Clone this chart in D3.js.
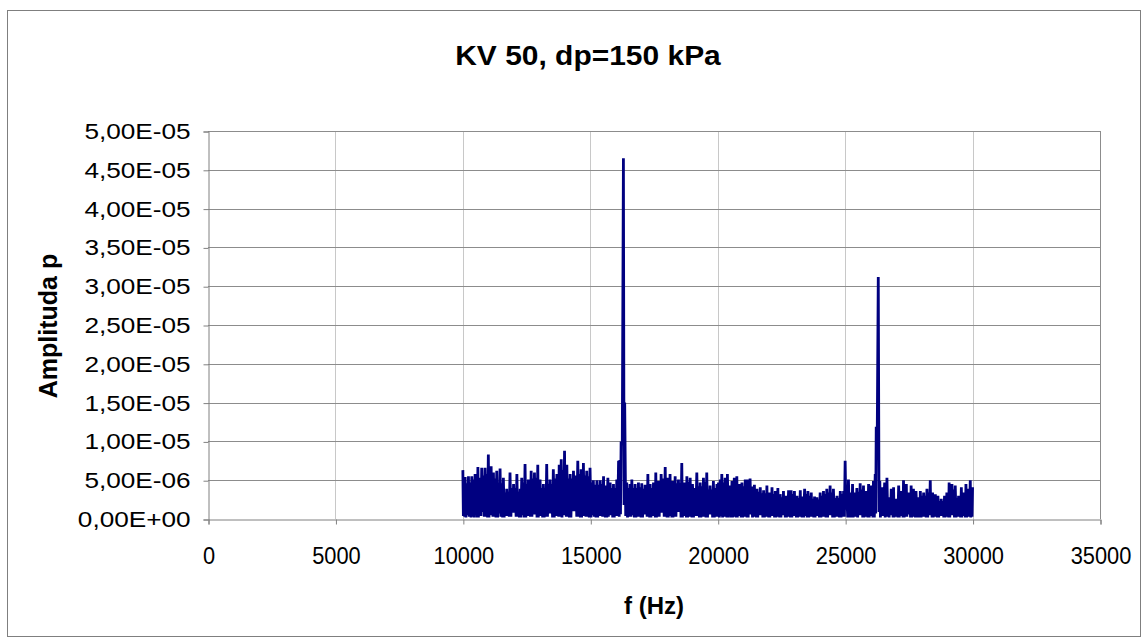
<!DOCTYPE html>
<html><head><meta charset="utf-8">
<script src="https://cdn.jsdelivr.net/npm/d3@7"></script>
<style>
html,body{margin:0;padding:0;background:#fff;}
text{font-family:"Liberation Sans",Arial,sans-serif;}
</style></head>
<body><svg id="c" width="1144" height="638"></svg>
<script>
const title = "KV 50, dp=150 kPa";
const xTitle = "f (Hz)";
const yTitle = "Amplituda p";
const xTicks = [0,5000,10000,15000,20000,25000,30000,35000];
const yTicks = [0,5e-6,1e-5,1.5e-5,2e-5,2.5e-5,3e-5,3.5e-5,4e-5,4.5e-5,5e-5];
const ampUnit = 1e-6;
// spectrum samples: [frequency Hz, amplitude in 1e-6]
const spectrum = [
[10000,6.3],[10020,0.4],[10045,4.8],[10070,0.3],[10090,5.4],[10120,0.2],[10155,4.6],[10190,0.5],[10220,5.5],[10250,0.3],
[10285,4.7],[10320,0.2],[10350,5.5],[10380,0.3],[10410,5.1],[10445,0.2],[10480,5.8],[10505,0.5],[10535,5.0],[10560,0.2],
[10590,6.7],[10610,0.2],[10635,4.6],[10660,0.4],[10680,5.3],[10710,0.4],[10740,6.6],[10770,0.9],[10805,5.6],[10840,0.3],
[10870,6.6],[10900,0.3],[10935,5.8],[10970,0.2],[11000,8.3],[11025,0.2],[11055,6.0],[11080,0.5],[11110,6.8],[11130,0.5],
[11155,5.4],[11180,0.3],[11200,6.0],[11230,0.3],[11265,5.2],[11300,0.2],[11330,6.2],[11365,0.2],[11400,4.5],[11430,0.7],
[11460,6.5],[11490,0.3],[11525,4.6],[11560,0.2],[11590,5.3],[11620,0.2],[11655,3.4],[11690,0.4],[11720,3.9],[11750,0.4],
[11785,3.5],[11820,0.3],[11850,6.0],[11885,0.3],[11920,4.0],[11955,0.8],[11990,4.5],[12020,0.8],[12055,4.0],[12090,0.3],
[12120,5.8],[12150,0.3],[12185,3.5],[12220,0.2],[12250,3.9],[12280,0.2],[12310,5.3],[12340,0.5],[12375,4.7],[12410,0.2],
[12440,7.1],[12470,0.2],[12505,4.5],[12540,0.4],[12570,5.1],[12595,0.4],[12625,4.5],[12650,0.3],[12680,6.2],[12710,0.3],
[12745,5.2],[12780,0.6],[12810,6.0],[12840,0.6],[12875,5.3],[12910,0.2],[12940,7.0],[12960,0.2],[12985,4.5],[13010,0.4],
[13030,5.1],[13060,0.4],[13095,4.0],[13130,0.2],[13160,4.5],[13190,0.2],[13225,4.0],[13260,0.3],[13290,7.1],[13320,0.3],
[13355,4.5],[13390,0.7],[13420,5.1],[13450,0.7],[13485,4.5],[13520,0.2],[13550,6.4],[13585,0.2],[13620,5.2],[13655,0.4],
[13690,5.8],[13710,0.4],[13735,5.2],[13760,0.3],[13780,7.0],[13820,0.3],[13860,7.7],[13890,0.2],[13925,6.3],[13960,0.5],
[13990,8.8],[14010,0.5],[14035,6.4],[14060,0.3],[14080,7.0],[14110,0.3],[14145,5.2],[14180,0.2],[14210,5.8],[14240,0.2],
[14275,5.2],[14310,1.0],[14340,6.2],[14380,1.0],[14425,5.6],[14470,0.3],[14510,7.5],[14540,0.3],[14575,5.8],[14610,0.2],
[14640,6.4],[14660,0.2],[14685,5.8],[14710,0.4],[14730,7.2],[14760,0.4],[14795,5.6],[14830,0.3],[14860,6.2],[14890,0.3],
[14925,5.5],[14960,0.2],[14990,6.6],[15025,0.2],[15060,4.7],[15090,0.5],[15120,5.0],[15155,0.3],[15190,4.4],[15225,0.2],
[15260,5.0],[15290,0.2],[15325,4.4],[15360,0.4],[15390,5.0],[15420,0.4],[15450,4.5],[15485,0.3],[15520,5.5],[15540,0.6],
[15565,3.8],[15590,0.2],[15610,4.3],[15650,0.2],[15690,5.3],[15710,0.3],[15735,4.2],[15760,0.5],[15780,4.7],[15810,0.5],
[15845,4.0],[15880,0.2],[15910,4.5],[15940,0.2],[15975,4.0],[16010,0.4],[16040,5.1],[16075,0.4],[16110,7.5],[16135,0.3],
[16160,7.6],[16185,0.6],[16210,10.0],[16255,9.5],[16300,46.5],[16325,1.8],[16350,15.0],[16390,0.4],[16430,4.7],[16460,0.2],
[16495,4.0],[16530,0.3],[16560,4.5],[16595,0.3],[16630,5.1],[16660,0.5],[16695,4.0],[16730,0.2],[16760,4.5],[16790,0.2],
[16825,4.0],[16860,0.3],[16890,4.7],[16920,0.3],[16955,4.1],[16990,0.2],[17020,4.6],[17050,0.2],[17085,3.9],[17120,0.6],
[17150,4.4],[17175,0.6],[17205,3.9],[17230,0.3],[17260,5.8],[17280,0.3],[17305,4.0],[17330,0.2],[17350,4.5],[17380,0.2],
[17415,4.0],[17450,0.4],[17480,4.7],[17500,0.4],[17525,4.2],[17550,0.2],[17570,6.0],[17595,0.2],[17625,4.4],[17650,0.3],
[17680,4.9],[17705,0.3],[17730,4.4],[17755,0.8],[17780,5.8],[17820,0.8],[17860,5.2],[17900,0.3],[17940,6.7],[17965,0.3],
[17990,4.8],[18015,0.2],[18040,5.3],[18060,0.2],[18085,4.8],[18110,0.4],[18130,5.8],[18150,0.4],[18175,4.4],[18200,0.2],
[18220,4.9],[18245,0.2],[18275,4.4],[18300,0.3],[18330,5.5],[18360,0.3],[18395,4.6],[18430,0.9],[18460,5.1],[18490,0.9],
[18525,4.6],[18560,0.2],[18590,7.2],[18615,0.2],[18645,4.2],[18670,0.4],[18700,4.7],[18720,0.4],[18745,4.2],[18770,0.2],
[18790,5.5],[18820,0.2],[18855,4.8],[18890,0.3],[18920,5.3],[18940,0.3],[18965,4.0],[18990,0.2],[19010,4.5],[19050,0.2],
[19095,4.0],[19140,0.4],[19180,6.0],[19210,0.4],[19245,4.2],[19280,0.2],[19310,4.7],[19340,0.2],[19375,4.2],[19410,0.3],
[19440,5.3],[19470,0.3],[19505,4.8],[19540,0.2],[19570,6.0],[19600,0.2],[19635,3.8],[19670,0.6],[19700,4.3],[19730,0.6],
[19765,3.8],[19800,0.2],[19830,4.9],[19865,0.2],[19900,4.0],[19935,0.3],[19970,4.5],[20000,0.3],[20030,4.7],[20065,0.2],
[20100,5.1],[20130,0.4],[20160,5.8],[20190,0.2],[20225,4.7],[20260,0.3],[20290,5.3],[20310,0.3],[20335,4.7],[20360,0.2],
[20380,5.8],[20415,0.2],[20450,4.3],[20475,0.5],[20505,3.8],[20530,0.2],[20560,4.9],[20580,0.2],[20605,4.4],[20630,0.3],
[20650,5.3],[20675,0.3],[20700,4.8],[20725,0.2],[20750,5.5],[20770,0.2],[20795,4.0],[20820,0.4],[20840,4.5],[20865,0.4],
[20895,4.0],[20920,0.2],[20950,4.7],[20980,0.2],[21015,4.2],[21050,0.3],[21080,5.1],[21100,0.3],[21125,4.6],[21150,0.2],
[21170,5.1],[21195,0.2],[21220,4.6],[21245,0.6],[21270,5.2],[21305,0.6],[21340,4.2],[21365,0.2],[21390,3.7],[21415,0.3],
[21440,4.4],[21465,0.3],[21490,3.5],[21515,0.2],[21540,3.9],[21570,0.2],[21605,3.5],[21640,0.5],[21670,4.1],[21700,0.5],
[21735,3.3],[21770,0.2],[21800,3.7],[21830,0.2],[21865,3.3],[21900,0.3],[21930,4.3],[21950,0.3],[21975,3.0],[22000,0.2],
[22020,3.4],[22045,0.2],[22075,3.0],[22100,0.4],[22130,4.1],[22160,0.4],[22195,3.2],[22230,0.2],[22260,3.6],[22285,0.2],
[22310,3.2],[22335,0.3],[22360,4.0],[22380,0.3],[22405,2.8],[22430,0.2],[22450,3.2],[22480,0.2],[22515,2.8],[22550,0.5],
[22580,3.6],[22600,0.5],[22625,2.7],[22650,0.2],[22670,3.0],[22695,0.2],[22725,2.7],[22750,0.3],[22780,3.7],[22805,0.3],
[22830,3.2],[22855,0.2],[22880,3.7],[22910,0.2],[22945,3.2],[22980,0.4],[23010,3.6],[23035,0.4],[23060,2.7],[23085,0.2],
[23110,3.0],[23140,0.2],[23175,2.7],[23210,0.3],[23240,3.7],[23260,0.3],[23285,2.6],[23310,0.2],[23330,2.9],[23370,0.2],
[23410,3.9],[23440,0.4],[23475,3.2],[23510,0.2],[23540,3.6],[23570,0.2],[23605,3.0],[23640,0.3],[23670,3.4],[23700,0.3],
[23735,2.6],[23770,0.2],[23800,2.9],[23820,0.2],[23845,2.5],[23870,0.4],[23890,2.8],[23920,0.4],[23955,2.5],[23990,0.2],
[24020,3.4],[24050,0.2],[24085,3.0],[24120,0.3],[24150,3.6],[24180,0.3],[24215,3.2],[24250,0.2],[24280,3.9],[24310,0.2],
[24345,3.4],[24380,0.5],[24410,4.3],[24440,0.5],[24475,3.4],[24510,0.2],[24540,3.9],[24575,0.2],[24610,2.7],[24645,0.3],
[24680,3.0],[24710,0.3],[24745,2.7],[24780,0.2],[24810,3.6],[24840,0.2],[24875,3.2],[24910,0.3],[24940,3.6],[24970,0.3],
[25000,7.5],[25030,1.2],[25065,3.2],[25100,0.2],[25130,5.1],[25165,0.2],[25200,3.4],[25220,0.4],[25245,3.0],[25270,0.2],
[25290,4.5],[25315,0.2],[25345,3.0],[25370,0.3],[25400,3.4],[25430,0.3],[25460,4.0],[25490,0.2],[25525,3.5],[25560,0.5],
[25590,4.6],[25620,0.5],[25655,3.8],[25690,0.2],[25720,4.3],[25740,0.2],[25765,3.2],[25790,0.3],[25810,3.6],[25835,0.3],
[25865,3.2],[25890,0.2],[25920,4.5],[25945,0.2],[25970,3.8],[25995,0.4],[26020,4.3],[26040,0.4],[26065,3.8],[26090,0.2],
[26110,4.9],[26145,0.2],[26180,5.8],[26200,0.7],[26220,11.9],[26260,11.0],[26300,31.2],[26330,0.9],[26360,4.9],[26385,0.2],
[26415,3.6],[26440,0.4],[26470,4.1],[26510,0.4],[26550,4.7],[26570,0.2],[26595,4.1],[26620,0.3],[26640,5.3],[26670,0.3],
[26700,2.8],[26725,0.2],[26755,2.5],[26780,0.5],[26810,3.9],[26830,0.5],[26855,3.4],[26880,0.2],[26900,4.1],[26920,0.2],
[26945,2.3],[26970,0.3],[26990,2.6],[27015,0.3],[27045,2.3],[27070,0.2],[27100,4.3],[27125,0.2],[27150,3.2],[27175,0.4],
[27200,3.6],[27220,0.4],[27245,3.2],[27270,0.2],[27290,5.0],[27315,0.2],[27345,4.0],[27370,0.3],[27400,4.5],[27420,0.3],
[27445,3.0],[27470,0.6],[27490,3.4],[27515,0.6],[27540,3.0],[27565,0.2],[27590,4.3],[27610,0.2],[27635,3.4],[27660,0.3],
[27680,3.9],[27705,0.3],[27730,3.2],[27755,0.2],[27780,3.6],[27820,0.2],[27860,2.8],[27880,0.4],[27905,2.5],[27930,0.2],
[27950,3.6],[27980,0.2],[28015,3.0],[28050,0.3],[28080,3.4],[28110,0.3],[28145,3.0],[28180,0.2],[28210,3.9],[28240,0.2],
[28275,3.4],[28310,0.5],[28340,5.0],[28360,0.5],[28385,3.0],[28410,0.2],[28430,3.4],[28455,0.2],[28485,2.8],[28510,0.3],
[28540,3.2],[28565,0.3],[28590,2.7],[28615,0.2],[28640,3.0],[28670,0.2],[28705,2.3],[28740,0.4],[28770,2.6],[28800,0.4],
[28835,2.3],[28870,0.2],[28900,3.0],[28920,0.2],[28945,2.7],[28970,0.3],[28990,3.4],[29010,0.3],[29035,3.0],[29060,0.2],
[29080,4.7],[29105,0.2],[29135,4.0],[29160,0.5],[29190,4.5],[29220,0.5],[29255,3.8],[29290,0.2],[29320,4.3],[29350,0.2],
[29385,2.7],[29420,0.3],[29450,3.0],[29475,0.3],[29505,2.7],[29530,0.2],[29560,4.1],[29580,0.2],[29605,3.0],[29630,0.4],
[29650,3.4],[29670,0.4],[29695,3.0],[29720,0.2],[29740,4.5],[29765,0.2],[29790,3.4],[29815,0.3],[29840,3.9],[29875,0.3],
[29910,5.0],[29930,0.2],[29955,3.6],[29980,0.3],[30000,4.1]];

const svg = d3.select("#c");
const plot = {left:208, right:1100, top:131, bottom:519};

// outer frame
svg.append("rect").attr("x",7.5).attr("y",10.5).attr("width",1133).attr("height",626)
  .attr("fill","#fff").attr("stroke","#7f7f7f").attr("stroke-width",1);

const x = d3.scaleLinear().domain([0,35000]).range([plot.left,plot.right]);
const y = d3.scaleLinear().domain([0,5e-5]).range([plot.bottom,plot.top]);

// vertical gridlines
svg.append("g").selectAll("line").data(xTicks.slice(1,-1)).join("line")
  .attr("x1",d=>Math.round(x(d))+0.5).attr("x2",d=>Math.round(x(d))+0.5)
  .attr("y1",plot.top).attr("y2",plot.bottom)
  .attr("stroke","#c8c8c8").attr("stroke-width",1);
// horizontal gridlines
svg.append("g").selectAll("line").data(yTicks.slice(1)).join("line")
  .attr("y1",d=>Math.round(y(d))+0.5).attr("y2",d=>Math.round(y(d))+0.5)
  .attr("x1",plot.left).attr("x2",plot.right)
  .attr("stroke","#8c8c8c").attr("stroke-width",1);
// right border
svg.append("line").attr("x1",plot.right+0.5).attr("x2",plot.right+0.5)
  .attr("y1",plot.top).attr("y2",plot.bottom).attr("stroke","#8c8c8c");

const fmtY = d => {
  const s = d3.format(".2e")(d);
  let [m,e] = s.split("e");
  let sign = e[0]==="-" ? "-" : "+";
  let ex = Math.abs(+e).toString().padStart(2,"0");
  return m.replace(".",",") + "E" + sign + ex;
};

// axes
const yAxis = d3.axisLeft(y).tickValues(yTicks).tickFormat(fmtY).tickSize(5).tickPadding(10);
const gy = svg.append("g").attr("transform",`translate(${plot.left+0.5},0.5)`).call(yAxis);
const xAxis = d3.axisBottom(x).tickValues(xTicks).tickFormat(d3.format("d")).tickSize(5).tickPadding(23);
const gx = svg.append("g").attr("transform",`translate(0.5,${plot.bottom+0.5})`).call(xAxis);
[gx,gy].forEach(g=>{
  g.select(".domain").attr("stroke","#808080");
  g.selectAll(".tick line").attr("stroke","#808080");
  g.selectAll("text").attr("fill","#000")
   .attr("font-family","'Liberation Sans',Arial,sans-serif");
});
gx.selectAll("text").attr("font-size","23px").attr("transform","scale(0.95,1)");
gy.selectAll("text").attr("font-size","22px").attr("transform","scale(1.19,1)");

// series
const pts = spectrum.map(d=>[d[0], d[1]*ampUnit]);
const line = d3.line().x(d=>x(d[0])).y(d=>y(d[1]));
svg.append("path").datum(pts).attr("d",line)
  .attr("fill","none").attr("stroke","#000080").attr("stroke-width",2.8).attr("stroke-linejoin","miter");

// titles
svg.append("text").attr("transform","translate(588,65) scale(1.07,1)").attr("text-anchor","middle")
  .attr("font-size","28px").attr("font-weight","bold").text(title);
svg.append("text").attr("x",654).attr("y",614).attr("text-anchor","middle")
  .attr("font-size","24px").attr("font-weight","bold").text(xTitle);
svg.append("text").attr("transform","translate(57,326) rotate(-90)").attr("text-anchor","middle")
  .attr("font-size","25px").attr("font-weight","bold").text(yTitle);
</script></body></html>
